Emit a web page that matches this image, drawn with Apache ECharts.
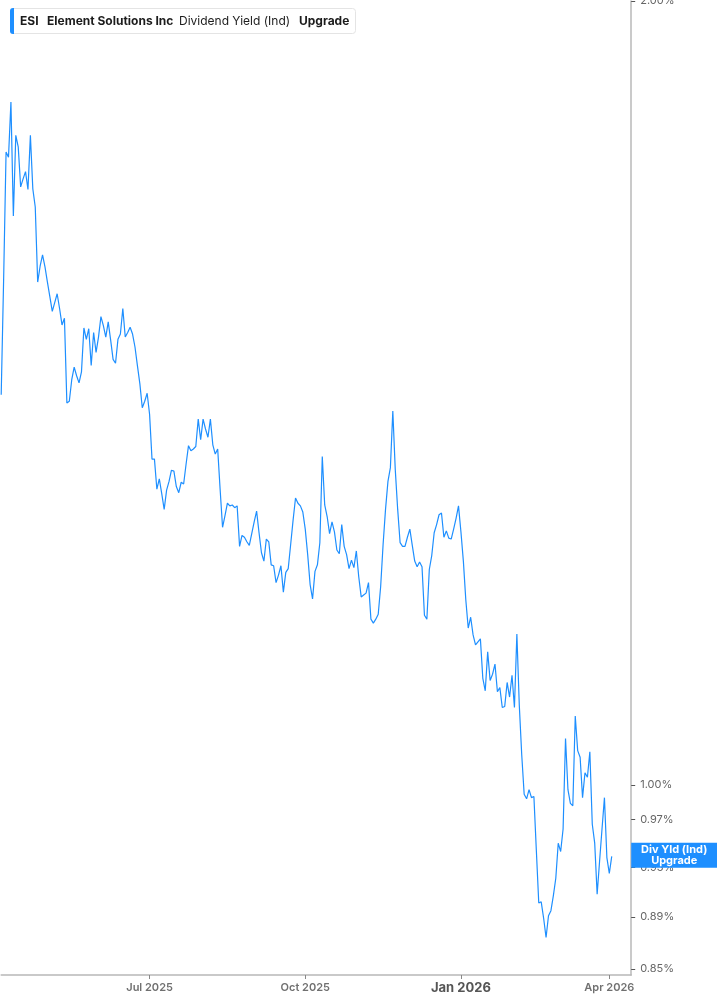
<!DOCTYPE html>
<html>
<head>
<meta charset="utf-8">
<script src="https://cdn.jsdelivr.net/npm/echarts@6/dist/echarts.min.js"></script>
<style>
html,body{margin:0;padding:0;background:#fff;}
#chart{width:717px;height:1005px;}
</style>
</head>
<body>
<div id="chart"></div>
<script>
// Trading days with data (Apr 2, 2025 .. Apr 2, 2026)
const dates = [
"2025-04-02","2025-04-03","2025-04-04","2025-04-07","2025-04-08","2025-04-09","2025-04-10","2025-04-11","2025-04-14","2025-04-15","2025-04-16","2025-04-17","2025-04-21","2025-04-22","2025-04-23","2025-04-24","2025-04-25","2025-04-28","2025-04-29","2025-04-30",
"2025-05-01","2025-05-02","2025-05-05","2025-05-06","2025-05-07","2025-05-08","2025-05-09","2025-05-12","2025-05-13","2025-05-14","2025-05-15","2025-05-16","2025-05-19","2025-05-20","2025-05-21","2025-05-22","2025-05-23","2025-05-27","2025-05-28","2025-05-29","2025-05-30",
"2025-06-02","2025-06-03","2025-06-04","2025-06-05","2025-06-06","2025-06-09","2025-06-10","2025-06-11","2025-06-12","2025-06-13","2025-06-16","2025-06-17","2025-06-18","2025-06-20","2025-06-23","2025-06-24","2025-06-25","2025-06-26","2025-06-27","2025-06-30",
"2025-07-01","2025-07-02","2025-07-03","2025-07-07","2025-07-08","2025-07-09","2025-07-10","2025-07-11","2025-07-14","2025-07-15","2025-07-16","2025-07-17","2025-07-18","2025-07-21","2025-07-22","2025-07-23","2025-07-24","2025-07-25","2025-07-28","2025-07-29","2025-07-30","2025-07-31",
"2025-08-01","2025-08-04","2025-08-05","2025-08-06","2025-08-07","2025-08-08","2025-08-11","2025-08-12","2025-08-13","2025-08-14","2025-08-15","2025-08-18","2025-08-19","2025-08-20","2025-08-21","2025-08-22","2025-08-25","2025-08-26","2025-08-27","2025-08-28","2025-08-29",
"2025-09-02","2025-09-03","2025-09-04","2025-09-05","2025-09-08","2025-09-09","2025-09-10","2025-09-11","2025-09-12","2025-09-15","2025-09-16","2025-09-17","2025-09-18","2025-09-19","2025-09-22","2025-09-23","2025-09-24","2025-09-25","2025-09-26","2025-09-29","2025-09-30",
"2025-10-01","2025-10-02","2025-10-03","2025-10-06","2025-10-07","2025-10-08","2025-10-09","2025-10-10","2025-10-13","2025-10-14","2025-10-15","2025-10-16","2025-10-17","2025-10-20","2025-10-21","2025-10-22","2025-10-23","2025-10-24","2025-10-27","2025-10-28","2025-10-29","2025-10-30","2025-10-31",
"2025-11-03","2025-11-04","2025-11-05","2025-11-06","2025-11-07","2025-11-10","2025-11-11","2025-11-12","2025-11-13","2025-11-14","2025-11-17","2025-11-18","2025-11-19","2025-11-20","2025-11-21","2025-11-24","2025-11-25","2025-11-26","2025-11-28",
"2025-12-01","2025-12-02","2025-12-03","2025-12-04","2025-12-05","2025-12-08","2025-12-09","2025-12-10","2025-12-11","2025-12-12","2025-12-15","2025-12-16","2025-12-17","2025-12-18","2025-12-19","2025-12-22","2025-12-23","2025-12-24","2025-12-26","2025-12-29","2025-12-30","2025-12-31",
"2026-01-02","2026-01-05","2026-01-06","2026-01-07","2026-01-08","2026-01-09","2026-01-12","2026-01-13","2026-01-14","2026-01-15","2026-01-16","2026-01-20","2026-01-21","2026-01-22","2026-01-23","2026-01-26","2026-01-27","2026-01-28","2026-01-29","2026-01-30",
"2026-02-02","2026-02-03","2026-02-04","2026-02-05","2026-02-06","2026-02-09","2026-02-10","2026-02-11","2026-02-12","2026-02-13","2026-02-17","2026-02-18","2026-02-19","2026-02-20","2026-02-23","2026-02-24","2026-02-25","2026-02-26","2026-02-27",
"2026-03-02","2026-03-03","2026-03-04","2026-03-05","2026-03-06","2026-03-09","2026-03-10","2026-03-11","2026-03-12","2026-03-13","2026-03-16","2026-03-17","2026-03-18","2026-03-19","2026-03-20","2026-03-23","2026-03-24","2026-03-25","2026-03-26","2026-03-27","2026-03-30","2026-03-31",
"2026-04-01","2026-04-02"
];
// Upcoming trading days shown on the axis without data
const axisPadDates = ["2026-04-06","2026-04-07","2026-04-08","2026-04-09","2026-04-10","2026-04-13","2026-04-14","2026-04-15"];

// Dividend yield (Ind), percent
const yieldPct = [
1.412,1.564,1.750,1.742,1.829,1.654,1.776,1.758,1.697,1.709,1.720,1.693,1.776,1.694,1.667,1.560,1.582,1.598,1.581,1.560,
1.540,1.520,1.532,1.544,1.524,1.502,1.511,1.402,1.404,1.431,1.447,1.436,1.427,1.441,1.498,1.483,1.497,1.449,1.492,1.466,1.486,
1.513,1.501,1.486,1.506,1.482,1.457,1.452,1.483,1.490,1.524,1.486,1.492,1.499,1.490,1.473,1.449,1.426,1.396,1.404,1.414,
1.388,1.334,1.334,1.299,1.311,1.294,1.276,1.298,1.308,1.321,1.320,1.302,1.295,1.307,1.305,1.328,1.350,1.344,1.346,1.349,1.382,1.357,
1.382,1.370,1.360,1.382,1.351,1.340,1.346,1.299,1.256,1.269,1.283,1.280,1.281,1.278,1.280,1.235,1.247,1.245,1.240,1.236,1.249,
1.262,1.274,1.250,1.228,1.219,1.243,1.240,1.215,1.214,1.196,1.204,1.214,1.186,1.207,1.211,1.237,1.264,1.289,1.283,1.280,1.273,
1.254,1.226,1.194,1.179,1.208,1.215,1.239,1.337,1.281,1.268,1.249,1.262,1.251,1.231,1.227,1.259,1.235,1.226,1.211,1.220,1.212,1.230,1.202,
1.181,1.183,1.185,1.196,1.158,1.154,1.158,1.163,1.192,1.237,1.276,1.308,1.324,1.392,1.322,1.276,1.239,1.235,1.235,
1.245,1.254,1.236,1.219,1.213,1.218,1.213,1.162,1.158,1.210,1.225,1.250,1.259,1.270,1.272,1.245,1.252,1.244,1.243,1.254,1.266,1.280,
1.251,1.219,1.178,1.149,1.160,1.142,1.132,1.135,1.138,1.099,1.087,1.125,1.097,1.103,1.113,1.086,1.090,1.071,1.072,1.095,
1.081,1.102,1.071,1.143,1.073,1.027,0.992,0.988,0.996,0.989,0.990,0.944,0.901,0.902,0.889,0.874,0.891,0.895,0.907,
0.921,0.950,0.943,0.962,1.042,0.996,0.984,0.982,1.063,1.031,1.025,0.989,1.011,1.007,1.030,0.966,0.950,0.908,0.935,0.962,0.989,0.938,
0.925,0.939
];

const xTickDates  = ["2025-07-01","2025-10-01","2026-01-02","2026-04-01"];
const xTickLabels = ["Jul 2025","Oct 2025","Jan 2026","Apr 2026"];
const yTickValues = [0.85, 0.89, 0.93, 0.97, 1.00, 2.00];
const yMin = 0.8455, yMax = 2.00;

const legendTicker = "ESI";
const legendCompany = "Element Solutions Inc";
const legendMetric = "Dividend Yield (Ind)";
const legendTag = "Upgrade";
const endTagLines = ["Div Yld (Ind)", "Upgrade"];

const BLUE = '#1e8fff';
const FONT = 'Inter, "Noto Sans", sans-serif';

const chart = echarts.init(document.getElementById('chart'), null, {renderer: 'canvas'});
const lastValue = yieldPct[yieldPct.length - 1];

chart.setOption({
  animation: false,
  backgroundColor: '#fff',
  textStyle: {fontFamily: FONT},
  grid: {left: 1.2, right: 85.8, top: 1, bottom: 30, containLabel: false, outerBoundsMode: 'none'},
  xAxis: {
    type: 'category',
    boundaryGap: false,
    data: dates.concat(axisPadDates),
    axisLine: {show: true, lineStyle: {color: '#b8b8b8', width: 1.5}},
    axisTick: {show: true, length: 4, interval: (i, v) => xTickDates.includes(v), lineStyle: {color: '#888', width: 1}},
    axisLabel: {
      show: true,
      interval: (i, v) => xTickDates.includes(v),
      margin: 7,
      formatter: v => {
        const t = xTickLabels[xTickDates.indexOf(v)];
        return t === 'Jan 2026' ? '{b|' + t + '}' : '{n|' + t + '}';
      },
      rich: {
        n: {fontFamily: FONT, fontSize: 11, fontWeight: 600, color: '#707070'},
        b: {fontFamily: FONT, fontSize: 13, fontWeight: 'bold', color: '#555'}
      }
    },
    splitLine: {show: false}
  },
  yAxis: {
    type: 'log',
    logBase: 10,
    position: 'right',
    min: yMin,
    max: yMax,
    axisLine: {show: true, lineStyle: {color: '#b8b8b8', width: 1.5}},
    axisTick: {show: true, customValues: yTickValues, length: 4, lineStyle: {color: '#555'}},
    axisLabel: {
      show: true,
      customValues: yTickValues,
      formatter: v => Number(v).toFixed(2) + '%',
      color: '#666', fontSize: 11, fontFamily: FONT, margin: 9
    },
    splitLine: {show: false}
  },
  series: [{
    type: 'line',
    name: 'Div Yld (Ind)',
    data: yieldPct,
    showSymbol: false,
    symbol: 'none',
    lineStyle: {color: BLUE, width: 1.2},
    itemStyle: {color: BLUE},
    markLine: {
      silent: true,
      symbol: ['none', 'none'],
      lineStyle: {width: 0, color: 'rgba(0,0,0,0)'},
      label: {
        show: true,
        position: 'end',
        distance: 0,
        formatter: '{a|' + endTagLines[0] + '}\n{a|' + endTagLines[1] + '}',
        backgroundColor: BLUE,
        padding: [1, 0, 1, 0],
        rich: {
          a: {width: 86, align: 'center', color: '#fff', fontFamily: FONT, fontWeight: 'bold', fontSize: 11, lineHeight: 11.5}
        }
      },
      data: [{yAxis: lastValue}]
    }
  }],
  graphic: [
    {type: 'rect', shape: {x: 10.5, y: 8.5, width: 345, height: 25, r: 3}, style: {fill: '#fff', stroke: '#e4e4e4', lineWidth: 1}, z: 10},
    {type: 'rect', shape: {x: 10, y: 8, width: 4, height: 26, r: [3, 0, 0, 3]}, style: {fill: BLUE}, z: 11},
    {type: 'text', x: 20, y: 21, style: {text: legendTicker, fontFamily: FONT, fontSize: 12, fontWeight: 'bold', fill: '#1c1c1c', verticalAlign: 'middle'}, z: 11},
    {type: 'text', x: 47, y: 21, style: {text: legendCompany, fontFamily: FONT, fontSize: 12, fontWeight: 'bold', fill: '#1c1c1c', verticalAlign: 'middle'}, z: 11},
    {type: 'text', x: 179, y: 21, style: {text: legendMetric, fontFamily: FONT, fontSize: 12, fontWeight: 'normal', fill: '#1c1c1c', verticalAlign: 'middle'}, z: 11},
    {type: 'text', x: 299, y: 21, style: {text: legendTag, fontFamily: FONT, fontSize: 12, fontWeight: 'bold', fill: '#1c1c1c', verticalAlign: 'middle'}, z: 11}
  ]
});
</script>
</body>
</html>
